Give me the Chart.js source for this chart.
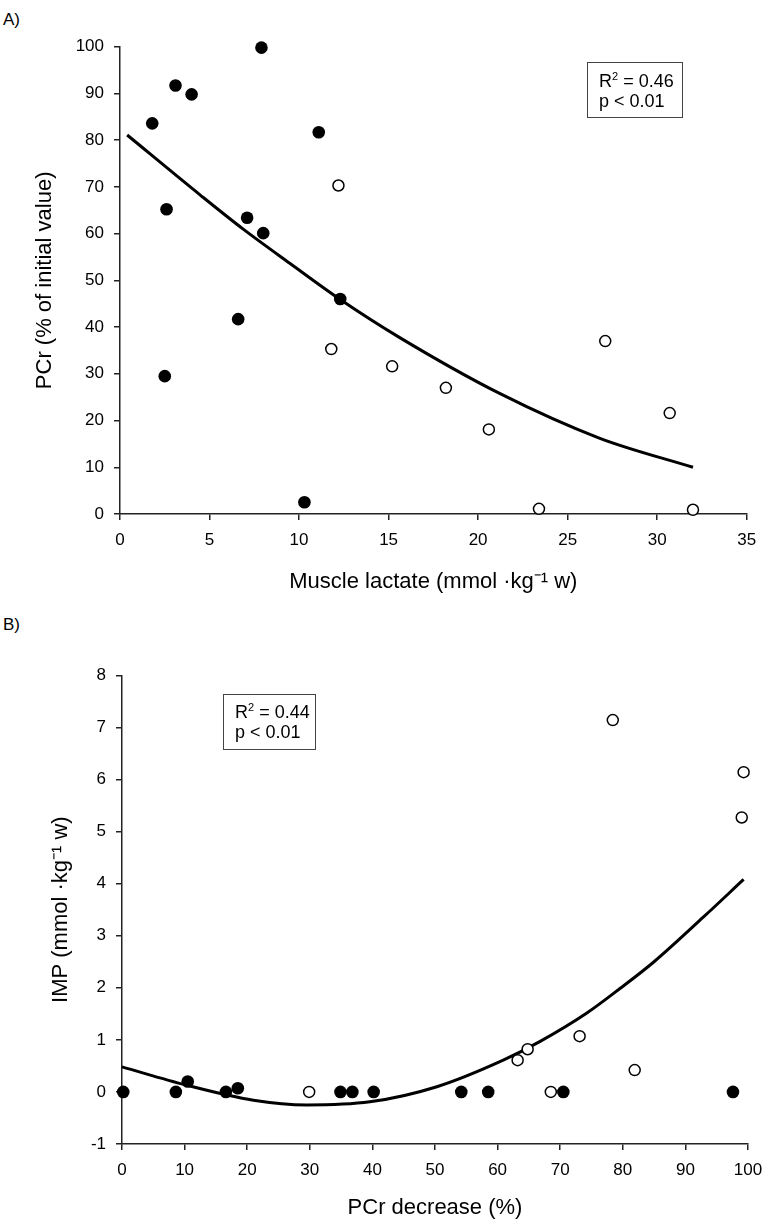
<!DOCTYPE html>
<html>
<head>
<meta charset="utf-8">
<script src="https://cdn.jsdelivr.net/npm/chart.js@4.4.1/dist/chart.umd.min.js"></script>
<style>
body { margin: 0; background: #fff; width: 784px; height: 1224px; position: relative; overflow: hidden;
       font-family: "Liberation Sans", Arial, sans-serif; color: #000; }
canvas { position: absolute; left: 0; }
#chartA { top: 0; }
#chartB { top: 612px; }
.panel { position: absolute; left: 3px; font-size: 17px; line-height: 20px; }
.stat { position: absolute; border: 1px solid #444; font-size: 18px; line-height: 20px;
        box-sizing: border-box; padding-left: 11px; }
.stat sup { font-size: 11px; line-height: 0; vertical-align: 0; position: relative; top: -7px; }
</style>
</head>
<body>
<div class="panel" style="top:10px">A)</div>
<div class="panel" style="top:615px">B)</div>
<canvas id="chartA" width="784" height="612"></canvas>
<canvas id="chartB" width="784" height="612"></canvas>
<div class="stat" style="left:587px; top:62px; width:96px; height:56px; padding-top:8px">R<sup>2</sup> = 0.46<br>p &lt; 0.01</div>
<div class="stat" style="left:223px; top:694px; width:93px; height:56px; padding-top:7px">R<sup>2</sup> = 0.44<br>p &lt; 0.01</div>
<script>
// panel A: PCr vs muscle lactate
var lactateFilled = [1.8, 3.1, 4.0, 7.9, 11.1, 2.6, 7.1, 8.0, 12.3, 6.6, 2.5, 10.3];
var pcrFilled     = [83.6, 91.7, 89.8, 99.8, 81.7, 65.2, 63.4, 60.1, 46.0, 41.7, 29.5, 2.5];
var lactateOpen   = [12.2, 11.8, 15.2, 18.2, 20.6, 23.4, 27.1, 30.7, 32.0];
var pcrOpen       = [70.3, 35.3, 31.6, 27.0, 18.1, 1.1, 37.0, 21.6, 0.9];
// regression curve
var lactateFit = [0.4, 4.5, 6.9, 9.5, 12.3, 15.6, 21.2, 26.8, 32.0];
var pcrFit     = [81.1, 68.2, 60.9, 53.6, 45.9, 37.8, 25.8, 16.2, 10.0];

// panel B: IMP vs PCr decrease
var decFilled = [0.2, 8.6, 10.5, 16.6, 18.5, 34.9, 36.8, 40.2, 54.2, 58.5, 70.5, 97.6];
var impFilled = [0, 0, 0.2, 0, 0.07, 0, 0, 0, 0, 0, 0, 0];
var decOpen   = [29.9, 63.2, 64.8, 68.5, 73.1, 81.9, 78.4, 99.3, 99.0];
var impOpen   = [0, 0.61, 0.82, 0, 1.07, 0.42, 7.14, 6.14, 5.27];
var decFit = [0, 10.3, 21.0, 29.5, 39.6, 50.3, 60.9, 66.8, 74.2, 79.6, 84.9, 92.9, 99.3];
var impFit = [0.48, 0.13, -0.16, -0.25, -0.19, 0.10, 0.61, 0.97, 1.51, 1.99, 2.49, 3.36, 4.08];

var FONT = '"Liberation Sans", Arial, sans-serif';

function pts(xs, ys) {
    return xs.map(function (x, i) { return {x: x, y: ys[i]}; });
}

function axis(min, max, step, title, fitSize, isY) {
    return {
        type: 'linear',
        min: min,
        max: max,
        ticks: {stepSize: step, padding: 10, color: '#000', font: {family: FONT, size: 17}},
        grid: {drawOnChartArea: false, drawTicks: true, tickLength: 6, color: '#222', lineWidth: 1.5},
        border: {display: true, color: '#222', width: 1.5},
        title: {display: true, text: title, color: '#000', padding: 0, font: {family: FONT, size: 22}},
        afterFit: function (s) {
            if (isY) s.width = fitSize; else s.height = fitSize;
            s.paddingLeft = 0; s.paddingRight = 0; s.paddingTop = 0; s.paddingBottom = 0;
        }
    };
}

function createScatter(id, filled, open, fit, xAxis, yAxis, padding) {
    return new Chart(document.getElementById(id), {
        type: 'scatter',
        data: {
            datasets: [{
                data: fit,
                showLine: true,
                pointRadius: 0,
                borderColor: '#000',
                borderWidth: 3,
                cubicInterpolationMode: 'monotone',
                order: 3
            }, {
                data: open,
                pointRadius: 5.5,
                pointBackgroundColor: '#fff',
                pointBorderColor: '#000',
                pointBorderWidth: 1.5,
                order: 2
            }, {
                data: filled,
                pointRadius: 6.3,
                pointBackgroundColor: '#000',
                pointBorderColor: '#000',
                pointBorderWidth: 0,
                order: 1
            }]
        },
        options: {
            responsive: false,
            animation: false,
            clip: false,
            layout: {padding: padding},
            plugins: {legend: {display: false}, tooltip: {enabled: false}},
            scales: {x: xAxis, y: yAxis}
        }
    });
}

createScatter('chartA',
    pts(lactateFilled, pcrFilled), pts(lactateOpen, pcrOpen), pts(lactateFit, pcrFit),
    axis(0, 35, 5, 'Muscle lactate (mmol \u00b7kg\u207b\u00b9 w)', 80.9, false),
    axis(0, 100, 10, 'PCr (% of initial value)', 88.2, true),
    {left: 31.8, right: 37.3, top: 46.7, bottom: 17.1});

createScatter('chartB',
    pts(decFilled, impFilled), pts(decOpen, impOpen), pts(decFit, impFit),
    axis(0, 100, 10, 'PCr decrease (%)', 77.5, false),
    axis(-1, 8, 1, 'IMP (mmol \u00b7kg\u207b\u00b9 w)', 73.9, true),
    {left: 48.1, right: 36, top: 63.3, bottom: 2.5});
</script>
</body>
</html>
